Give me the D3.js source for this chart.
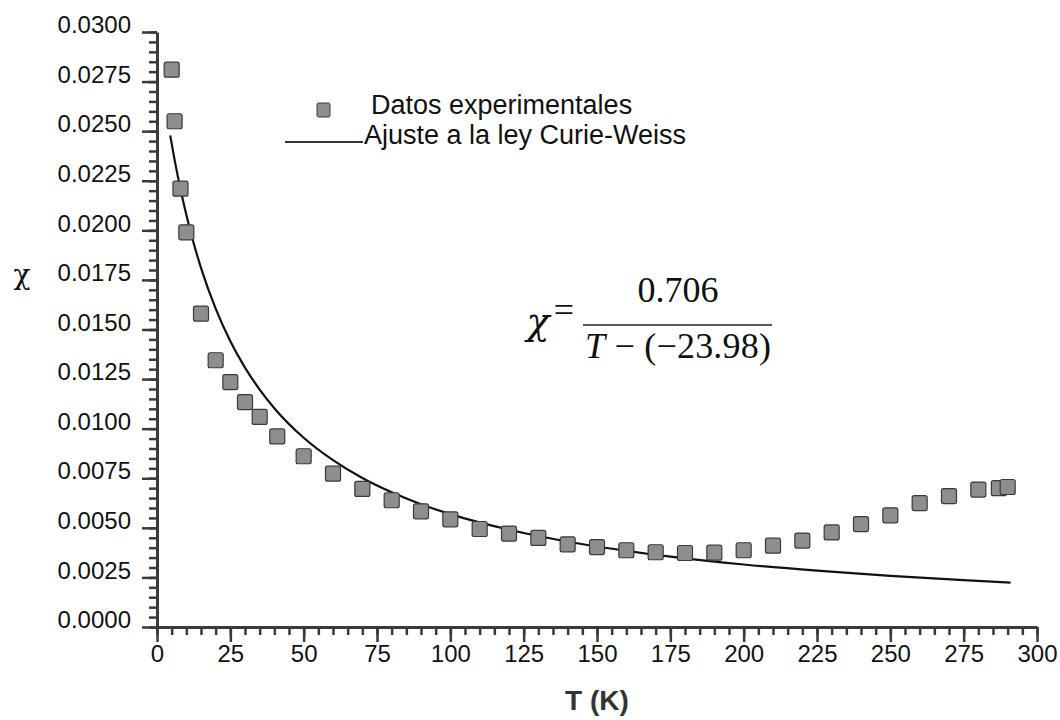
<!DOCTYPE html>
<html>
<head>
<meta charset="utf-8">
<script src="https://cdn.jsdelivr.net/npm/d3@7"></script>
<style>
  body { margin: 0; background: #fff; }
</style>
</head>
<body>
<div class="svg"></div>
<script>
const w = 1060;
const h = 720;

// temperatura (K) y susceptibilidad medidas
const tempData = [5, 6, 8, 10, 15, 20, 25, 30, 35, 41, 50, 60, 70, 80, 90, 100, 110, 120, 130, 140,
                  150, 160, 170, 180, 190, 200, 210, 220, 230, 240, 250, 260, 270, 280, 287, 290];
const chiData = [0.0281, 0.0255, 0.0221, 0.0199, 0.0158, 0.01345, 0.01235, 0.01134, 0.01059, 0.00961,
                 0.00861, 0.00773, 0.00696, 0.00639, 0.00583, 0.00543, 0.00494, 0.00471, 0.00449, 0.00417,
                 0.00403, 0.00387, 0.00377, 0.00373, 0.00375, 0.00387, 0.0041, 0.00436, 0.00477, 0.00519,
                 0.00563, 0.00625, 0.0066, 0.00693, 0.0070, 0.00706];

// curva de ajuste
const fitT = [4.5, 6, 8, 10, 12.5, 15, 20, 25, 30, 35, 40, 50, 60, 70, 80, 90, 100, 125, 150, 175, 200, 225, 250, 275, 291];
const fitChi = [0.02479, 0.02355, 0.02208, 0.02078, 0.01935, 0.01811, 0.01605, 0.01441, 0.01308, 0.01197,
                0.01103, 0.00954, 0.00841, 0.00751, 0.00679, 0.00619, 0.00569, 0.00474, 0.00406, 0.00355,
                0.00315, 0.00284, 0.00258, 0.00236, 0.00224];

const xTicks = [0, 25, 50, 75, 100, 125, 150, 175, 200, 225, 250, 275, 300];
const yTicks = [0, 0.0025, 0.005, 0.0075, 0.01, 0.0125, 0.015, 0.0175, 0.02, 0.0225, 0.025, 0.0275, 0.03];

const sans = '"Liberation Sans", Arial, sans-serif';
const serif = '"Liberation Serif", "Times New Roman", serif';
const greek = '"DejaVu Serif", serif';

const svg = d3.select('.svg')
              .append('svg')
              .attr("width", w)
              .attr("height", h)
              .style("font-family", sans);

const xScale = d3.scaleLinear().domain([0, 300]).range([157, 1037]);
const yScale = d3.scaleLinear().domain([0, 0.03]).range([627, 32]);

let drawAxes = () => {
    const tickColor = "#3a3a3a";

    // menores
    svg.append("g")
       .attr("transform", "translate(0," + yScale(0) + ")")
       .call(d3.axisBottom(xScale).tickValues(d3.range(0, 301, 5)).tickSize(8).tickSizeOuter(0).tickFormat(""))
       .call(g => g.selectAll("line").attr("stroke", tickColor).attr("stroke-width", 2.5))
       .call(g => g.select(".domain").remove());
    svg.append("g")
       .attr("transform", "translate(" + xScale(0) + ",0)")
       .call(d3.axisLeft(yScale).tickValues(d3.range(0, 0.03001, 0.0005)).tickSize(8).tickSizeOuter(0).tickFormat(""))
       .call(g => g.selectAll("line").attr("stroke", tickColor).attr("stroke-width", 2.5))
       .call(g => g.select(".domain").remove());

    const xAxis = svg.append("g")
       .attr("transform", "translate(0," + yScale(0) + ")")
       .call(d3.axisBottom(xScale).tickValues(xTicks).tickSize(15).tickSizeOuter(0).tickPadding(3).tickFormat(d3.format("d")));
    xAxis.selectAll("line").attr("stroke", tickColor).attr("stroke-width", 2.5);
    xAxis.select(".domain").attr("stroke", tickColor).attr("stroke-width", 3);
    xAxis.selectAll("text").style("font-size", "24px").style("font-family", sans).attr("fill", "#111");

    const yAxis = svg.append("g")
       .attr("transform", "translate(" + xScale(0) + ",0)")
       .call(d3.axisLeft(yScale).tickValues(yTicks).tickSize(15).tickSizeOuter(0).tickPadding(11).tickFormat(d3.format(".4f")));
    yAxis.selectAll("line").attr("stroke", tickColor).attr("stroke-width", 2.5);
    yAxis.select(".domain").attr("stroke", tickColor).attr("stroke-width", 3);
    yAxis.selectAll("text").style("font-size", "24px").style("font-family", sans).attr("fill", "#111").attr("y", -7);

    svg.append("text")
       .text("T (K)")
       .attr("x", (xScale(0) + xScale(300)) / 2)
       .attr("y", 710)
       .attr("text-anchor", "middle")
       .style("font-size", "28px")
       .style("font-weight", "bold")
       .attr("fill", "#333");

    svg.append("text")
       .text("χ")
       .attr("x", 22)
       .attr("y", 284)
       .attr("text-anchor", "middle")
       .style("font-family", greek)
       .style("font-size", "28px")
       .attr("fill", "#111");
}

let drawPlot = () => {
    const fit = fitT.map((t, i) => [t, fitChi[i]]);
    svg.append("path")
       .datum(fit)
       .attr("d", d3.line().x(d => xScale(d[0])).y(d => yScale(d[1])).curve(d3.curveMonotoneX))
       .attr("fill", "none")
       .attr("stroke", "#111")
       .attr("stroke-width", 2.2);

    const size = 15;
    svg.selectAll("rect.dato")
       .data(tempData)
       .enter()
       .append("rect")
       .attr("class", "dato")
       .attr("x", d => xScale(d) - size / 2)
       .attr("y", (d, i) => yScale(chiData[i]) - size / 2)
       .attr("width", size)
       .attr("height", size)
       .attr("rx", 2)
       .attr("fill", "#8e8e8e")
       .attr("stroke", "#3a3a3a")
       .attr("stroke-width", 1.2);
}

let drawLegend = () => {
    svg.append("rect")
       .attr("x", 317).attr("y", 103)
       .attr("width", 13).attr("height", 14)
       .attr("rx", 1.5)
       .attr("fill", "#8e8e8e")
       .attr("stroke", "#3a3a3a")
       .attr("stroke-width", 1);
    svg.append("text")
       .text("Datos experimentales")
       .attr("x", 371).attr("y", 114)
       .style("font-size", "27px")
       .attr("fill", "#111");

    svg.append("line")
       .attr("x1", 285).attr("x2", 363)
       .attr("y1", 142).attr("y2", 142)
       .attr("stroke", "#333")
       .attr("stroke-width", 2);
    svg.append("text")
       .text("Ajuste a la ley Curie-Weiss")
       .attr("x", 364).attr("y", 144)
       .style("font-size", "27px")
       .attr("fill", "#111");
}

let drawFormula = () => {
    const f = svg.append("g")
                 .style("font-family", serif)
                 .attr("fill", "#111");
    f.append("text").text("χ")
     .attr("x", 538).attr("y", 334)
     .attr("text-anchor", "middle")
     .style("font-family", greek)
     .style("font-style", "italic")
     .style("font-size", "38px");
    f.append("text").text("=")
     .attr("x", 564).attr("y", 322)
     .attr("text-anchor", "middle")
     .style("font-size", "36px");
    f.append("line")
     .attr("x1", 583).attr("x2", 772)
     .attr("y1", 325).attr("y2", 325)
     .attr("stroke", "#222").attr("stroke-width", 1.5);
    f.append("text").text("0.706")
     .attr("x", 678).attr("y", 302)
     .attr("text-anchor", "middle")
     .style("font-size", "36px");
    const den = f.append("text")
     .attr("x", 678).attr("y", 358)
     .attr("text-anchor", "middle")
     .attr("textLength", 186)
     .style("font-size", "36px");
    den.append("tspan").style("font-style", "italic").text("T");
    den.append("tspan").text(" − (−23.98)");
}

drawAxes();
drawPlot();
drawLegend();
drawFormula();
</script>
</body>
</html>
